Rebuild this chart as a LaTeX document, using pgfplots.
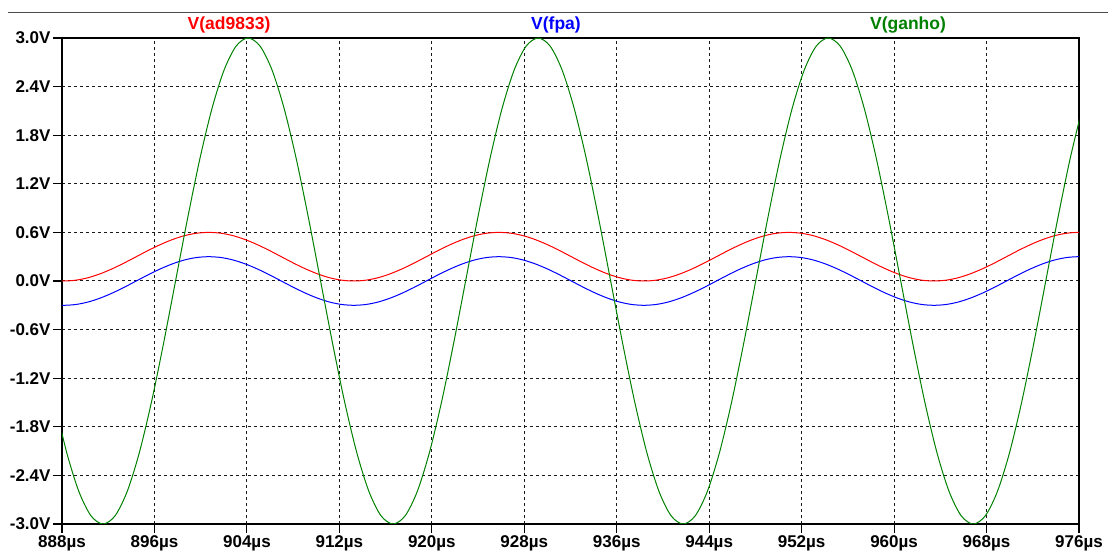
\documentclass[border=0pt]{standalone}
\usepackage{fontspec}
\setmainfont{Liberation Sans}
\usepackage{pgfplots}
\usepackage{pgfplotstable}
\pgfplotsset{compat=1.18}
\definecolor{ltred}{RGB}{255,0,0}
\definecolor{ltblue}{RGB}{0,0,255}
\definecolor{ltgreen}{RGB}{0,128,0}

\pgfplotstableread{
t red blue
887.104 0.010 -0.290
888.150 0.000 -0.300
889.196 0.010 -0.290
890.242 0.040 -0.260
891.288 0.088 -0.212
892.333 0.150 -0.150
893.379 0.222 -0.078
894.425 0.300 0.000
895.471 0.378 0.078
896.517 0.450 0.150
897.563 0.512 0.212
898.608 0.560 0.260
899.654 0.590 0.290
900.700 0.600 0.300
901.746 0.590 0.290
902.792 0.560 0.260
903.837 0.512 0.212
904.883 0.450 0.150
905.929 0.378 0.078
906.975 0.300 0.000
908.021 0.222 -0.078
909.067 0.150 -0.150
910.112 0.088 -0.212
911.158 0.040 -0.260
912.204 0.010 -0.290
913.250 0.000 -0.300
914.296 0.010 -0.290
915.342 0.040 -0.260
916.387 0.088 -0.212
917.433 0.150 -0.150
918.479 0.222 -0.078
919.525 0.300 0.000
920.571 0.378 0.078
921.617 0.450 0.150
922.662 0.512 0.212
923.708 0.560 0.260
924.754 0.590 0.290
925.800 0.600 0.300
926.846 0.590 0.290
927.892 0.560 0.260
928.937 0.512 0.212
929.983 0.450 0.150
931.029 0.378 0.078
932.075 0.300 0.000
933.121 0.222 -0.078
934.167 0.150 -0.150
935.212 0.088 -0.212
936.258 0.040 -0.260
937.304 0.010 -0.290
938.350 0.000 -0.300
939.396 0.010 -0.290
940.442 0.040 -0.260
941.487 0.088 -0.212
942.533 0.150 -0.150
943.579 0.222 -0.078
944.625 0.300 0.000
945.671 0.378 0.078
946.717 0.450 0.150
947.762 0.512 0.212
948.808 0.560 0.260
949.854 0.590 0.290
950.900 0.600 0.300
951.946 0.590 0.290
952.992 0.560 0.260
954.037 0.512 0.212
955.083 0.450 0.150
956.129 0.378 0.078
957.175 0.300 0.000
958.221 0.222 -0.078
959.267 0.150 -0.150
960.312 0.088 -0.212
961.358 0.040 -0.260
962.404 0.010 -0.290
963.450 0.000 -0.300
964.496 0.010 -0.290
965.542 0.040 -0.260
966.587 0.088 -0.212
967.633 0.150 -0.150
968.679 0.222 -0.078
969.725 0.300 0.000
970.771 0.378 0.078
971.817 0.450 0.150
972.862 0.512 0.212
973.908 0.560 0.260
974.954 0.590 0.290
976.000 0.600 0.300
977.046 0.590 0.290
}\redblue

\pgfplotstableread{
t green
887.367 -1.500
888.413 -2.121
889.458 -2.598
890.504 -2.898
891.550 -3.000
892.596 -2.898
893.642 -2.598
894.688 -2.121
895.733 -1.500
896.779 -0.776
897.825 0.000
898.871 0.776
899.917 1.500
900.963 2.121
902.008 2.598
903.054 2.898
904.100 3.000
905.146 2.898
906.192 2.598
907.237 2.121
908.283 1.500
909.329 0.776
910.375 0.000
911.421 -0.776
912.467 -1.500
913.512 -2.121
914.558 -2.598
915.604 -2.898
916.650 -3.000
917.696 -2.898
918.742 -2.598
919.787 -2.121
920.833 -1.500
921.879 -0.776
922.925 0.000
923.971 0.776
925.017 1.500
926.062 2.121
927.108 2.598
928.154 2.898
929.200 3.000
930.246 2.898
931.292 2.598
932.337 2.121
933.383 1.500
934.429 0.776
935.475 0.000
936.521 -0.776
937.567 -1.500
938.612 -2.121
939.658 -2.598
940.704 -2.898
941.750 -3.000
942.796 -2.898
943.842 -2.598
944.887 -2.121
945.933 -1.500
946.979 -0.776
948.025 0.000
949.071 0.776
950.117 1.500
951.162 2.121
952.208 2.598
953.254 2.898
954.300 3.000
955.346 2.898
956.392 2.598
957.437 2.121
958.483 1.500
959.529 0.776
960.575 0.000
961.621 -0.776
962.667 -1.500
963.712 -2.121
964.758 -2.598
965.804 -2.898
966.850 -3.000
967.896 -2.898
968.942 -2.598
969.987 -2.121
971.033 -1.500
972.079 -0.776
973.125 0.000
974.171 0.776
975.217 1.500
976.262 2.121
}\greentab

\begin{document}
\begin{tikzpicture}
\path[use as bounding box] (0,0) rectangle (1108bp,556bp);
\draw[black!70, line width=1bp] (8bp,543.3bp) -- (1108bp,543.3bp);
\begin{axis}[
  at={(62bp,32bp)}, anchor=south west,
  scale only axis, width=1017bp, height=486bp,
  xmin=888, xmax=976, ymin=-3, ymax=3,
  xtick={888,896,904,912,920,928,936,944,952,960,968,976},
  xticklabels={888µs,896µs,904µs,912µs,920µs,928µs,936µs,944µs,952µs,960µs,968µs,976µs},
  ytick={-3,-2.4,-1.8,-1.2,-0.6,0,0.6,1.2,1.8,2.4,3},
  yticklabels={-3.0V,-2.4V,-1.8V,-1.2V,-0.6V,0.0V,0.6V,1.2V,1.8V,2.4V,3.0V},
  grid=major,
  major grid style={black!90, dash pattern=on 3bp off 3bp, line width=1bp},
  tick align=outside, tick pos=left, major tick length=9bp,
  tick style={black, line width=1.1bp},
  axis line style={black, line width=1.3bp},
  ticklabel style={font=\fontsize{17bp}{20bp}\selectfont\bfseries, text=black},
  yticklabel style={xshift=1bp},
  xticklabel style={yshift=1bp},
  every axis plot/.append style={line width=1bp},
]
\addplot[ltred, smooth] table[x=t, y=red] {\redblue};
\addplot[ltblue, smooth] table[x=t, y=blue] {\redblue};
\addplot[ltgreen, smooth] table[x=t, y=green] {\greentab};
\end{axis}
\node[text=ltred, font=\fontsize{17.5bp}{20bp}\selectfont\bfseries] at (229bp,531bp) {V(ad9833)};
\node[text=ltblue, font=\fontsize{17.5bp}{20bp}\selectfont\bfseries] at (556bp,531bp) {V(fpa)};
\node[text=ltgreen, font=\fontsize{17.5bp}{20bp}\selectfont\bfseries] at (908bp,531bp) {V(ganho)};
\end{tikzpicture}
\end{document}
